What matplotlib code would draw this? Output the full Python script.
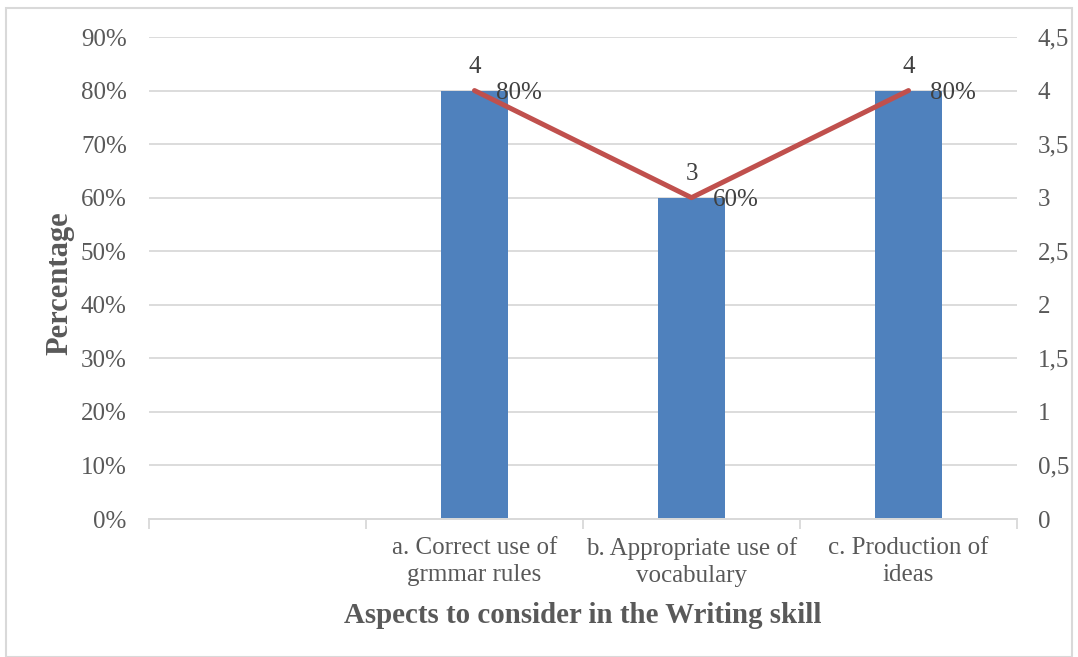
import matplotlib.pyplot as plt
import numpy as np
from matplotlib.patches import Rectangle

categories = ['', 'a. Correct use of\ngrmmar rules', 'b. Appropriate use of\nvocabulary', 'c. Production of\nideas']
percent = [np.nan, 0.80, 0.60, 0.80]
counts = [np.nan, 4, 3, 4]
left_ticks = [0, 0.1, 0.2, 0.3, 0.4, 0.5, 0.6, 0.7, 0.8, 0.9]
right_ticks = [0, 0.5, 1, 1.5, 2, 2.5, 3, 3.5, 4, 4.5]

plt.rcParams['font.family'] = ['Liberation Serif', 'DejaVu Serif']
grey = '#595959'
dark = '#404040'
grid = '#d9d9d9'

fig = plt.figure(figsize=(10.78, 6.57), dpi=100)
ax = fig.add_axes([149 / 1078, 1 - 519 / 657, (1017 - 149) / 1078, (519 - 37) / 657])
ax2 = ax.twinx()

x = np.arange(len(categories))
ax.bar(x, percent, width=0.31, color='#4f81bd', zorder=2)
ax.set_xlim(-0.5, len(categories) - 0.5)
ax.set_ylim(0, 0.9)
ax.set_yticks(left_ticks)
ax.set_yticklabels([f'{int(round(t * 100))}%' for t in left_ticks])
ax.grid(axis='y', color=grid, linewidth=1.3, zorder=0)
ax.set_axisbelow(True)

ax.set_xticks(x)
ax.set_xticklabels(categories, fontsize=18, color=grey, linespacing=1.3)
ax.set_xticks(np.arange(len(categories) + 1) - 0.5, minor=True)
ax.tick_params(axis='x', which='major', length=0, pad=13)
ax.tick_params(axis='x', which='minor', length=7, color=grid, width=1.3)
ax.tick_params(axis='y', length=0, labelsize=18, labelcolor=grey, pad=16)

ax2.plot(x, counts, color='#c0504d', linewidth=3.6, solid_capstyle='round', zorder=3)
ax2.set_ylim(0, 4.5)
ax2.set_yticks(right_ticks)
ax2.set_yticklabels([f'{t:g}'.replace('.', ',') for t in right_ticks])
ax2.tick_params(axis='y', length=0, labelsize=18, labelcolor=grey, pad=15)

for a in (ax, ax2):
    for s in ['top', 'left', 'right']:
        a.spines[s].set_visible(False)
    a.spines['bottom'].set_color(grid)
    a.spines['bottom'].set_linewidth(1.3)

# value labels
for xi, p, c in zip(x, percent, counts):
    if np.isnan(p):
        continue
    ax.annotate(f'{int(round(p * 100))}%', (xi + 0.155, p), xytext=(-9, -2),
                textcoords='offset points', ha='left', va='center', fontsize=18, color=dark)
    ax2.annotate(f'{c:g}', (xi, c), xytext=(0, 17), textcoords='offset points',
                 ha='center', va='center', fontsize=18, color=dark)

ax.set_ylabel('Percentage', fontsize=22, fontweight='bold', color=grey, ha='center', va='center')
ax.yaxis.set_label_coords(-89 / 868, 0.49)
ax.set_xlabel('Aspects to consider in the Writing skill', fontsize=20.8, fontweight='bold',
              color=grey, labelpad=11)

fig.patches.append(Rectangle((6 / 1078, 0), 1 - 12 / 1078, 1 - 8 / 657, transform=fig.transFigure,
                             fill=False, edgecolor=grid, linewidth=1.5))

fig.savefig('out.png', dpi=100)
